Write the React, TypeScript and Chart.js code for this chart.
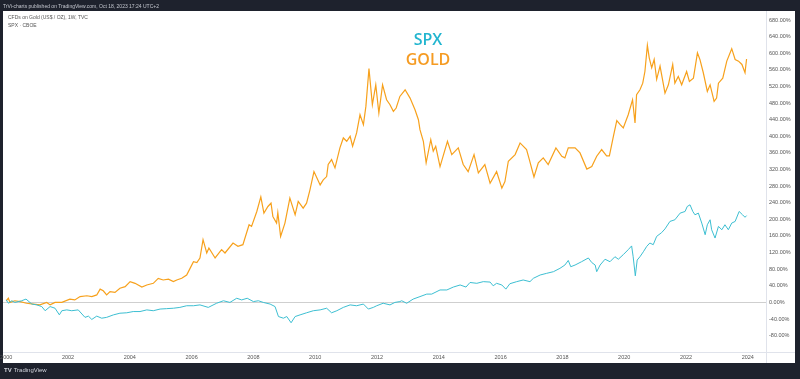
import React, { useEffect, useRef } from "react";
import { Chart, registerables } from "chart.js";

Chart.register(...registerables);

const goldYears = [
  2000.0, 2000.07, 2000.12, 2000.28, 2000.45, 2000.66, 2000.88, 2001.09, 2001.31, 2001.42,
  2001.58, 2001.8, 2002.06, 2002.22, 2002.39, 2002.61, 2002.77, 2002.93, 2003.04, 2003.14,
  2003.25, 2003.36, 2003.52, 2003.68, 2003.85, 2004.01, 2004.17, 2004.39, 2004.55, 2004.76,
  2004.92, 2005.08, 2005.25, 2005.41, 2005.52, 2005.68, 2005.84, 2005.95, 2006.06, 2006.17,
  2006.27, 2006.37, 2006.49, 2006.56, 2006.76, 2006.97, 2007.08, 2007.34, 2007.5, 2007.66,
  2007.86, 2007.94, 2008.11, 2008.24, 2008.34, 2008.47, 2008.57, 2008.63, 2008.75, 2008.79,
  2008.88, 2009.02, 2009.18, 2009.35, 2009.45, 2009.61, 2009.72, 2009.83, 2009.96, 2010.16,
  2010.26, 2010.37, 2010.42, 2010.53, 2010.64, 2010.8, 2010.91, 2011.02, 2011.13, 2011.21,
  2011.34, 2011.45, 2011.56, 2011.64, 2011.74, 2011.85, 2011.96, 2012.06, 2012.18, 2012.31,
  2012.42, 2012.53, 2012.62, 2012.74, 2012.91, 2013.07, 2013.23, 2013.34, 2013.39, 2013.5,
  2013.59, 2013.74, 2013.82, 2013.9, 2014.04, 2014.28, 2014.42, 2014.63, 2014.79, 2014.95,
  2015.14, 2015.28, 2015.49, 2015.66, 2015.87, 2016.04, 2016.14, 2016.25, 2016.47, 2016.63,
  2016.84, 2016.93, 2017.08, 2017.22, 2017.38, 2017.54, 2017.79, 2017.98, 2018.08, 2018.19,
  2018.41, 2018.57, 2018.79, 2018.95, 2019.11, 2019.27, 2019.43, 2019.52, 2019.65, 2019.76,
  2019.87, 2019.97, 2020.13, 2020.27, 2020.35, 2020.4, 2020.51, 2020.6, 2020.67, 2020.75,
  2020.81, 2020.89, 2020.97, 2021.05, 2021.16, 2021.32, 2021.43, 2021.57, 2021.64, 2021.75,
  2021.86, 2022.02, 2022.11, 2022.24, 2022.37, 2022.45, 2022.56, 2022.69, 2022.78, 2022.91,
  2022.99, 2023.05, 2023.19, 2023.32, 2023.48, 2023.59, 2023.7, 2023.81, 2023.91, 2023.96,
];

const goldPct = [
  4, 10, 0, 4, 2, -2, -4, -6, 0, -6,
  0, 0, 8, 6, 14, 16, 14, 18, 32, 28,
  18, 26, 24, 34, 38, 50, 46, 37, 42, 46,
  58, 54, 56, 50, 54, 58, 66, 82, 98, 96,
  107, 151, 119, 131, 107, 127, 119, 143, 135, 139,
  187, 183, 219, 254, 215, 231, 239, 207, 191, 216,
  159, 191, 251, 211, 243, 227, 239, 271, 315, 283,
  295, 303, 332, 344, 324, 372, 396, 388, 400, 376,
  408, 452, 428, 472, 563, 476, 524, 456, 524, 488,
  476, 460, 468, 496, 512, 492, 464, 440, 416, 388,
  336, 392, 364, 376, 327, 388, 356, 372, 332, 315,
  356, 312, 332, 287, 315, 275, 291, 340, 356, 384,
  368, 344, 302, 336, 348, 332, 372, 352, 348, 372,
  372, 360, 321, 327, 352, 368, 353, 353, 400, 438,
  428, 420, 452, 488, 432, 500, 512, 528, 556, 619,
  589, 565, 585, 537, 569, 504, 524, 573, 528, 544,
  524, 556, 532, 540, 601, 585, 553, 508, 524, 484,
  492, 528, 540, 581, 611, 585, 581, 573, 553, 586,
];

const spxYears = [
  2000.0, 2000.07, 2000.18, 2000.28, 2000.5, 2000.64, 2000.83, 2000.99, 2001.15, 2001.26,
  2001.42, 2001.58, 2001.72, 2001.8, 2001.96, 2002.12, 2002.33, 2002.55, 2002.66, 2002.77,
  2002.93, 2003.09, 2003.25, 2003.47, 2003.68, 2003.9, 2004.11, 2004.33, 2004.55, 2004.76,
  2004.98, 2005.19, 2005.41, 2005.62, 2005.84, 2006.06, 2006.27, 2006.54, 2006.81, 2007.03,
  2007.24, 2007.46, 2007.62, 2007.8, 2008.0, 2008.16, 2008.32, 2008.54, 2008.7, 2008.81,
  2008.97, 2009.08, 2009.22, 2009.35, 2009.51, 2009.72, 2009.94, 2010.16, 2010.37, 2010.53,
  2010.7, 2010.91, 2011.13, 2011.34, 2011.56, 2011.72, 2011.88, 2011.99, 2012.2, 2012.42,
  2012.58, 2012.74, 2012.8, 2012.96, 2013.17, 2013.39, 2013.61, 2013.77, 2014.04, 2014.26,
  2014.47, 2014.69, 2014.88, 2015.01, 2015.23, 2015.44, 2015.66, 2015.76, 2015.87, 2016.04,
  2016.17, 2016.3, 2016.52, 2016.73, 2016.95, 2017.06, 2017.28, 2017.49, 2017.71, 2017.92,
  2018.08, 2018.19, 2018.27, 2018.41, 2018.62, 2018.84, 2018.95, 2019.06, 2019.11, 2019.22,
  2019.38, 2019.54, 2019.7, 2019.81, 2019.97, 2020.13, 2020.24, 2020.29, 2020.36, 2020.42,
  2020.51, 2020.62, 2020.73, 2020.83, 2020.94, 2021.05, 2021.21, 2021.32, 2021.48, 2021.64,
  2021.81, 2021.97, 2022.04, 2022.13, 2022.22, 2022.29, 2022.4, 2022.51, 2022.62, 2022.69,
  2022.78, 2022.83, 2022.94, 2023.05, 2023.16, 2023.26, 2023.37, 2023.48, 2023.59, 2023.72,
  2023.83, 2023.91, 2023.96,
];

const spxPct = [
  6, -2, 4, 0, 4, 8, -4, -6, -10, -20,
  -10, -14, -30, -20, -18, -20, -18, -36, -33, -41,
  -33, -38, -36, -30, -26, -25, -22, -22, -18, -20,
  -16, -15, -14, -12, -8, -8, -6, -12, -2, 4,
  0, 10, 6, 10, 2, 4, 0, -4, -10, -34,
  -38, -34, -49, -34, -30, -25, -20, -18, -14, -25,
  -20, -12, -6, -8, -4, -16, -12, -8, -2, -6,
  0, 2, 4, -2, 8, 14, 20, 20, 30, 30,
  37, 42, 37, 48, 46, 50, 49, 40, 46, 42,
  32, 45, 50, 54, 50, 58, 66, 70, 74, 82,
  90, 101, 86, 90, 98, 107, 96, 90, 74, 90,
  104, 98, 110, 104, 115, 127, 136, 110, 64, 102,
  110, 122, 135, 143, 139, 159, 168, 177, 195, 199,
  215, 219, 231, 235, 219, 211, 215, 191, 163, 187,
  199, 175, 155, 183, 175, 187, 175, 191, 195, 219,
  211, 205, 209,
];

const yearTicks = [2000, 2002, 2004, 2006, 2008, 2010, 2012, 2014, 2016, 2018, 2020, 2022, 2024];
const pctTicks = [-80, -40, 0, 40, 80, 120, 160, 200, 240, 280, 320, 360, 400, 440, 480, 520, 560, 600, 640, 680];

const X_MIN = 1999.896;
const X_MAX = 2024.589;
const Y_MIN = -119.4;
const Y_MAX = 701.7;

const FRAME = "#1e222d";
const GOLD_COLOR = "#f7a11c";
const SPX_COLOR = "#3dbfd2";

export default function App() {
  const ref = useRef<HTMLCanvasElement | null>(null);

  useEffect(() => {
    const canvas = ref.current;
    if (!canvas) return;
    const framePlugin = {
      id: "frame",
      beforeDraw(chart: any) {
        const { ctx, width, height } = chart;
        ctx.save();
        ctx.fillStyle = FRAME;
        ctx.fillRect(0, 0, width, height);
        ctx.fillStyle = "#ffffff";
        ctx.fillRect(3, 11, 792, 352);
        ctx.restore();
      },
      afterDraw(chart: any) {
        const { ctx, chartArea } = chart;
        ctx.save();
        ctx.strokeStyle = "#e0e3eb";
        ctx.lineWidth = 1;
        ctx.beginPath();
        ctx.moveTo(chartArea.right, Math.round(chartArea.bottom) + 0.5);
        ctx.lineTo(795, Math.round(chartArea.bottom) + 0.5);
        ctx.moveTo(Math.round(chartArea.right) + 0.5, chartArea.bottom);
        ctx.lineTo(Math.round(chartArea.right) + 0.5, 363);
        ctx.stroke();
        ctx.restore();
      },
    };

    const chart = new Chart(canvas, {
      type: "line",
      data: {
        datasets: [
          {
            label: "SPX",
            data: spxYears.map((x, i) => ({ x, y: spxPct[i] })),
            borderColor: SPX_COLOR,
            borderWidth: 1,
            pointRadius: 0,
            tension: 0,
          },
          {
            label: "GOLD",
            data: goldYears.map((x, i) => ({ x, y: goldPct[i] })),
            borderColor: GOLD_COLOR,
            borderWidth: 1.2,
            pointRadius: 0,
            tension: 0,
          },
        ],
      },
      options: {
        animation: false,
        responsive: false,
        layout: { padding: { left: 3, top: 11, right: 5, bottom: 16 } },
        plugins: {
          legend: { display: false },
          tooltip: { enabled: false },
          title: { display: false },
        },
        scales: {
          x: {
            type: "linear",
            min: X_MIN,
            max: X_MAX,
            grid: { display: false, drawTicks: false },
            border: { display: true, color: "#e0e3eb" },
            ticks: {
              color: "#555555",
              font: { size: 5.5, family: "Liberation Sans" },
              padding: 2,
              maxRotation: 0,
              autoSkip: false,
              callback: (v: any) => String(v),
            },
            afterBuildTicks: (s: any) => {
              s.ticks = yearTicks.map((v) => ({ value: v }));
            },
            afterFit: (s: any) => {
              s.height = 11;
              s.paddingLeft = 0;
              s.paddingRight = 0;
            },
          },
          y: {
            type: "linear",
            position: "right",
            min: Y_MIN,
            max: Y_MAX,
            grid: {
              drawTicks: false,
              color: (ctx: any) => (ctx.tick && ctx.tick.value === 0 ? "#cfcfcf" : "rgba(0,0,0,0)"),
            },
            border: { display: true, color: "#e0e3eb" },
            ticks: {
              color: "#555555",
              font: { size: 5.5, family: "Liberation Sans" },
              padding: 3,
              callback: (v: any) => Number(v).toFixed(2) + "%",
            },
            afterBuildTicks: (s: any) => {
              s.ticks = pctTicks.map((v) => ({ value: v }));
            },
            afterFit: (s: any) => {
              s.width = 29;
              s.paddingTop = 0;
              s.paddingBottom = 0;
            },
          },
        },
      },
      plugins: [framePlugin],
    } as any);

    return () => chart.destroy();
  }, []);

  const small: React.CSSProperties = {
    position: "absolute",
    fontFamily: "Liberation Sans, sans-serif",
    fontSize: 5,
    lineHeight: "6px",
    whiteSpace: "nowrap",
  };

  return (
    <div style={{ position: "fixed", left: 0, top: 0, width: 800, height: 379, background: FRAME, overflow: "hidden" }}>
      <canvas ref={ref} width={800} height={379} style={{ position: "absolute", left: 0, top: 0, width: 800, height: 379 }} />
      <div style={{ ...small, left: 3, top: 3, color: "#c3c6ce" }}>
        TrVi-charts published on TradingView.com, Oct 18, 2023 17:24 UTC+2
      </div>
      <div style={{ ...small, left: 8, top: 14, color: "#555555" }}>CFDs on Gold (US$ / OZ), 1W, TVC</div>
      <div style={{ ...small, left: 8, top: 22, color: "#555555" }}>SPX · CBOE</div>
      <div
        style={{
          position: "absolute",
          left: 378,
          top: 29,
          width: 100,
          textAlign: "center",
          fontFamily: "Open Sans, sans-serif",
          fontWeight: 600,
          fontSize: 16,
          lineHeight: "20px",
        }}
      >
        <div style={{ color: "#22b5cf" }}>SPX</div>
        <div style={{ color: "#f59b22" }}>GOLD</div>
      </div>
      <div style={{ ...small, left: 4, top: 367, color: "#d1d4dc", fontSize: 6, lineHeight: "7px" }}>
        <span style={{ fontWeight: 700, marginRight: 2 }}>TV</span>TradingView
      </div>
    </div>
  );
}
